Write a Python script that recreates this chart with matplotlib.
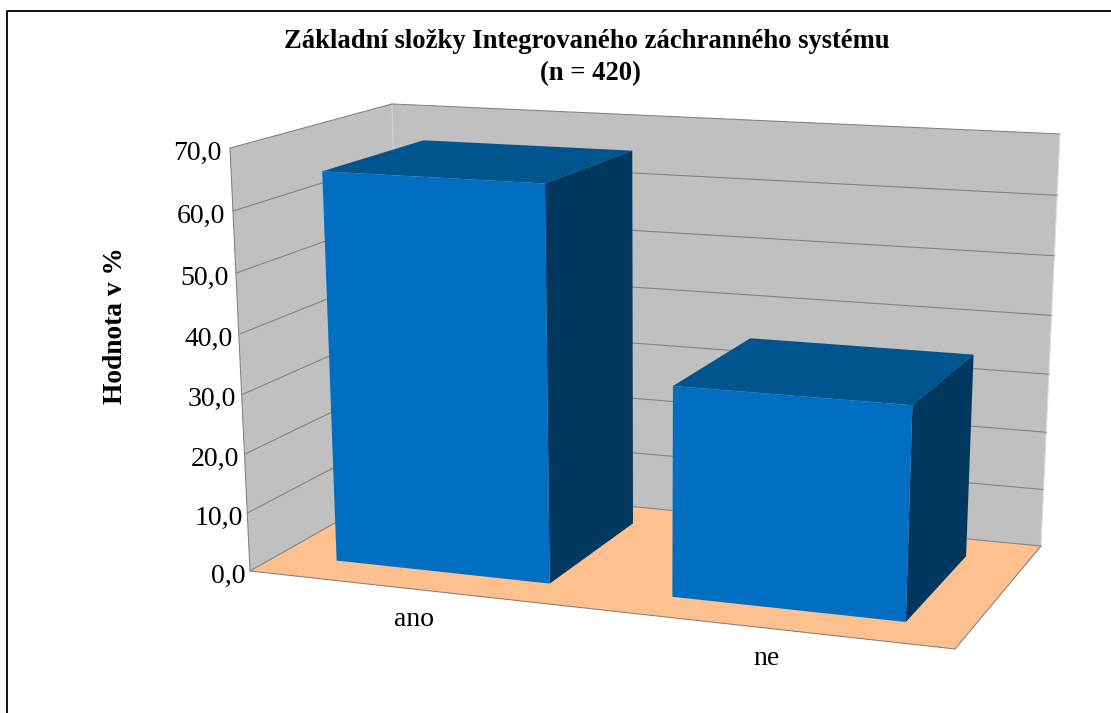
import numpy as np
import matplotlib
matplotlib.use("Agg")
import matplotlib.pyplot as plt
from matplotlib.patches import Polygon

title = "Základní složky Integrovaného záchranného systému\n(n = 420)"
ylabel = "Hodnota v %"
categories = ["ano", "ne"]
values = [65.4, 34.7]
yticks = [0, 10, 20, 30, 40, 50, 60, 70]
ytick_labels = ["0,0", "10,0", "20,0", "30,0", "40,0", "50,0", "60,0", "70,0"]

C_WALL, C_FLOOR = "#C0C0C0", "#FDC08E"
C_FRONT, C_TOP, C_SIDE = "#006FC1", "#00558F", "#00385F"
C_LINE = "#808080"
BAR_L, BAR_R, D0, D1 = 0.18, 0.825, 0.175, 0.825
ZMAX = yticks[-1]

# camera calibrated to the reference's plot box (category, depth, value) -> pixel
anch = [((0,0,0),(250,571)),((0,0,70),(230,148)),((2,0,0),(955,649)),
        ((0,1,70),(392,104)),((2,1,70),(1060,134)),((2,1,0),(1041,546))]
A = []
for (x,y,z),(u,v) in anch:
    A.append([x,y,z,1,0,0,0,0,-u*x,-u*y,-u*z,-u])
    A.append([0,0,0,0,x,y,z,1,-v*x,-v*y,-v*z,-v])
P = np.linalg.svd(np.array(A, float))[2][-1].reshape(3,4)
def proj(x, y, z):
    r = P @ np.array([x, y, z, 1.0])
    return r[:2] / r[2]

plt.rcParams["font.family"] = ["Liberation Serif", "DejaVu Serif"]
fig = plt.figure(figsize=(11.11, 7.13), dpi=100)
ax = fig.add_axes([0, 0, 1, 1])
ax.set_xlim(0, 1111); ax.set_ylim(713, 0); ax.axis("off")

def face(pts, color, z=1):
    ax.add_patch(Polygon([proj(*p) for p in pts], closed=True, fc=color, ec="none", lw=0, zorder=z))
def line(a, b, color=C_LINE, lw=0.75, z=2):
    p, q = proj(*a), proj(*b)
    ax.plot([p[0], q[0]], [p[1], q[1]], color=color, lw=lw, zorder=z, solid_capstyle="round")

# frame
ax.plot([6.5, 6.5, 1111], [713, 10.5, 10.5], color="black", lw=1.3, zorder=0)

# walls and floor
face([(0,0,0),(0,1,0),(0,1,ZMAX),(0,0,ZMAX)], C_WALL)
face([(0,1,0),(2,1,0),(2,1,ZMAX),(0,1,ZMAX)], C_WALL)
line((0,1,0),(0,1,ZMAX), color="#D4D4D4")
line((2,1,0),(2,1,ZMAX), color="#DDDDDD")
for t in yticks[1:-1]:
    line((0,0,t),(0,1,t))
    line((0,1,t),(2,1,t))
face([(0,0,0),(2,0,0),(2,1,0),(0,1,0)], C_FLOOR, z=3)
line((0,0,0),(2,0,0), z=4); line((2,0,0),(2,1,0), z=4)
line((2,1,0),(0,1,0), z=4); line((0,1,0),(0,0,0), z=4)
line((0,0,0),(0,0,ZMAX), z=4); line((0,0,ZMAX),(0,1,ZMAX), z=4)
line((0,1,ZMAX),(2,1,ZMAX), z=4)

# bars
for i, v in enumerate(values):
    x0, x1 = i + BAR_L, i + BAR_R
    z = 5 + i
    face([(x0,D0,v),(x1,D0,v),(x1,D1,v),(x0,D1,v)], C_TOP, z=z)
    face([(x1,D0,0),(x1,D1,0),(x1,D1,v),(x1,D0,v)], C_SIDE, z=z)
    face([(x0,D0,0),(x1,D0,0),(x1,D0,v),(x0,D0,v)], C_FRONT, z=z)

# texts
for t, lab in zip(yticks, ytick_labels):
    p = proj(0, 0, t)
    ax.text(p[0] - 4 - 4 * t / ZMAX, p[1] + 5, lab, ha="right", va="center", fontsize=20, color="black", zorder=9)
for i, lab in enumerate(categories):
    p = proj(i + 0.5, 0, 0)
    ax.text(p[0], p[1] + 30, lab, ha="center", va="center", fontsize=20, color="black", zorder=9)
ax.text(587, 41, title.split("\n")[0], ha="center", va="center", fontsize=19.2, fontweight="bold", zorder=9)
ax.text(590, 74, title.split("\n")[1], ha="center", va="center", fontsize=19.2, fontweight="bold", zorder=9)
ax.text(115, 326, ylabel, rotation=90, ha="center", va="center", fontsize=19.7, fontweight="bold", zorder=9)

fig.savefig("out.png", dpi=100)
